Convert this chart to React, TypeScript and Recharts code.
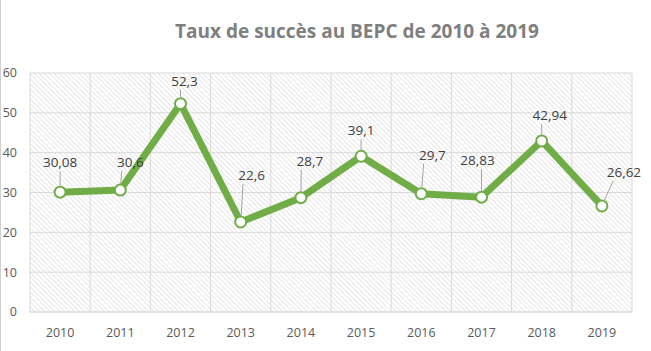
import { LineChart, Line, XAxis, YAxis, CartesianGrid, LabelList } from 'recharts';

const years = ['2010', '2011', '2012', '2013', '2014', '2015', '2016', '2017', '2018', '2019'];
const rates = [30.08, 30.6, 52.3, 22.6, 28.7, 39.1, 29.7, 28.83, 42.94, 26.62];
const yTicks = [0, 10, 20, 30, 40, 50, 60];

// where each data label sits relative to its point (dx, dy), like the hand-moved labels in the original
const labelShift = [
  [0, -30],
  [10, -28],
  [4, -23],
  [11, -47],
  [9, -37],
  [0, -26],
  [11, -39],
  [-4, -37],
  [8, -26],
  [22, -34],
];

const data = years.map((year, i) => ({ year, rate: rates[i] }));

const GREEN = '#70AD47';
const FONT = '"Open Sans", "Liberation Sans", sans-serif';

const fmt = (v: number) => String(v).replace('.', ',');

function CalloutLabel(props: any) {
  const { x, y, value, index } = props;
  const [dx, dy] = labelShift[index] || [0, -20];
  const lx = x + dx;
  const ly = y + dy;
  // leader line from the marker edge to the bottom edge of the label box
  const half = fmt(value).length * 3.6 * 0.6;
  const ex = lx + Math.max(-half, Math.min(half, x - lx));
  const ey = ly + 9;
  const len = Math.hypot(ex - x, ey - y) || 1;
  const sx = x + ((ex - x) / len) * 6;
  const sy = y + ((ey - y) / len) * 6;
  return (
    <g>
      <line x1={sx} y1={sy} x2={ex} y2={ey} stroke="#a6a6a6" strokeWidth={1} />
      <text
        x={lx}
        y={ly}
        textAnchor="middle"
        dominantBaseline="central"
        fontSize={13.5}
        fontFamily={FONT}
        fill="#404040"
      >
        {fmt(value)}
      </text>
    </g>
  );
}

export default function App() {
  return (
    <div
      style={{
        position: 'absolute',
        left: 0,
        top: 0,
        width: 651,
        height: 351,
        background: '#fff',
        fontFamily: FONT,
      }}
    >
      <div style={{ position: 'absolute', left: 0, top: 0, width: 1, height: 351, background: '#d0d0d0' }} />
      <div
        style={{
          position: 'absolute',
          left: 0,
          width: 714,
          top: 18,
          textAlign: 'center',
          fontSize: 19,
          fontWeight: 700,
          color: '#7f7f7f',
          whiteSpace: 'nowrap',
        }}
      >
        Taux de succès au BEPC de 2010 à 2019
      </div>
      <LineChart width={651} height={351} data={data} margin={{ top: 73, right: 19, bottom: 9, left: 0 }}>
        <defs>
          <pattern
            id="hatch"
            patternUnits="userSpaceOnUse"
            width={3.5}
            height={3.5}
            patternTransform="rotate(-45)"
          >
            <rect width={3.5} height={3.5} fill="#ffffff" />
            <line x1={0} y1={0} x2={0} y2={3.5} stroke="#d4d4d4" strokeWidth={1.1} />
          </pattern>
        </defs>
        <CartesianGrid
          fill="url(#hatch)"
          stroke="#d9d9d9"
          strokeWidth={1}
          verticalCoordinatesGenerator={({ offset }: any) =>
            Array.from({ length: years.length + 1 }, (_, i) => offset.left + (i * offset.width) / years.length)
          }
        />
        <XAxis
          dataKey="year"
          scale="band"
          axisLine={{ stroke: '#d9d9d9' }}
          tickLine={false}
          tickMargin={10}
          tick={{ fontSize: 12.5, fill: '#595959', fontFamily: FONT }}
        />
        <YAxis
          width={30}
          domain={[0, 60]}
          ticks={yTicks}
          axisLine={false}
          tickLine={false}
          tickSize={0}
          tickMargin={13}
          tick={{ fontSize: 12.5, fill: '#595959', fontFamily: FONT }}
        />
        <Line
          type="linear"
          dataKey="rate"
          stroke={GREEN}
          strokeWidth={7}
          strokeLinejoin="round"
          dot={{ r: 5.5, fill: '#ffffff', stroke: GREEN, strokeWidth: 2 }}
          activeDot={false}
          isAnimationActive={false}
        >
          <LabelList dataKey="rate" content={CalloutLabel} />
        </Line>
      </LineChart>
    </div>
  );
}
